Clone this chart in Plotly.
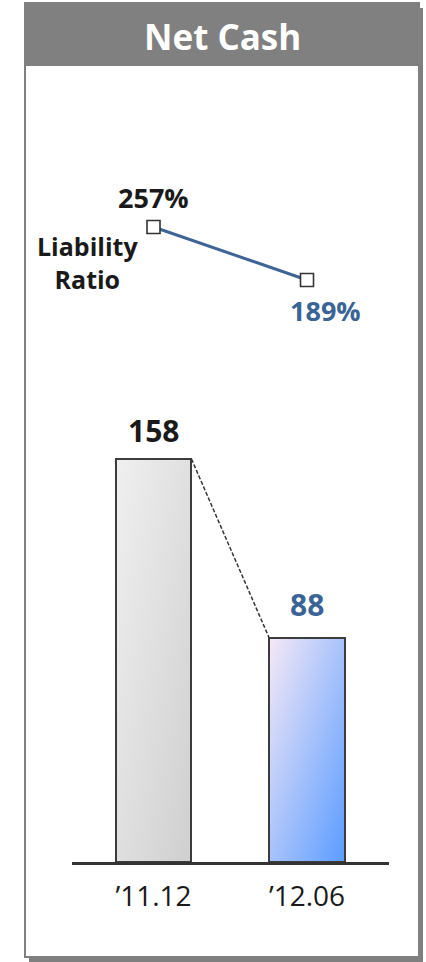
import base64
import plotly.graph_objects as go

# ---- data ----
periods = ["\u201911.12", "\u201912.06"]
net_cash = [158, 88]
liability_ratio = [257, 189]
net_cash_labels = ["158", "88"]
ratio_labels = ["257%", "189%"]

W, H = 426, 962
FONT = "Open Sans"
BLUE = "#3A6496"
DARK = "#1A1A1A"
BAR_W = 0.495


def px(x):
    return x / W


def py(y):
    return 1 - y / H


def gradient_uri(c0, c1):
    svg = (
        "<svg xmlns='http://www.w3.org/2000/svg' width='100' height='100' "
        "preserveAspectRatio='none'>"
        "<defs><linearGradient id='g' x1='0' y1='0' x2='1' y2='1'>"
        f"<stop offset='0' stop-color='{c0}'/><stop offset='1' stop-color='{c1}'/>"
        "</linearGradient></defs>"
        "<rect width='100' height='100' fill='url(#g)'/></svg>"
    )
    return "data:image/svg+xml;base64," + base64.b64encode(svg.encode()).decode()


bar_gradients = [("#F0F0F0", "#CFCFCF"), ("#F6E9F6", "#5A9CFF")]

fig = go.Figure()

# bars: outline from the trace, fill from gradient images beneath
fig.add_trace(go.Bar(
    x=[0, 1], y=net_cash, width=BAR_W,
    marker=dict(color="rgba(0,0,0,0)", line=dict(color="#3C3C3C", width=2)),
    hoverinfo="skip", showlegend=False,
))

# liability ratio line
fig.add_trace(go.Scatter(
    x=[0, 1], y=liability_ratio, yaxis="y2", mode="lines+markers",
    line=dict(color="#3F6597", width=3),
    marker=dict(symbol="square", size=13, color="white",
                line=dict(color="#333333", width=1.6)),
    hoverinfo="skip", showlegend=False,
))

images = []
for i, (v, (c0, c1)) in enumerate(zip(net_cash, bar_gradients)):
    images.append(dict(
        source=gradient_uri(c0, c1), xref="x", yref="y",
        x=i - BAR_W / 2, y=v, sizex=BAR_W, sizey=v,
        xanchor="left", yanchor="top", sizing="stretch", layer="below",
    ))

shapes = [
    # drop shadow, panel, header band
    dict(type="rect", xref="paper", yref="paper", x0=px(29), x1=px(423),
         y0=py(962), y1=py(8), fillcolor="#7F7F7F", line_width=0, layer="below"),
    dict(type="rect", xref="paper", yref="paper", x0=px(25), x1=px(419),
         y0=py(957), y1=py(3), fillcolor="white",
         line=dict(color="#808080", width=2), layer="below"),
    dict(type="rect", xref="paper", yref="paper", x0=px(24), x1=px(420),
         y0=py(66), y1=py(3), fillcolor="#808080", line_width=0, layer="below"),
    # dashed connector between bar tops
    dict(type="line", xref="x", yref="y", x0=BAR_W / 2, y0=net_cash[0],
         x1=1 - BAR_W / 2, y1=net_cash[1],
         line=dict(color="#333333", width=1.5, dash="4px,2px")),
]


def label(text, x, y, size, color, xref="x", yref="y", **kw):
    return dict(text=text, x=x, y=y, xref=xref, yref=yref, showarrow=False,
                xanchor="center", yanchor="middle",
                font=dict(family=FONT, size=size, color=color), **kw)


annotations = [
    label("<b>Net Cash</b>", px(222), py(36), 35, "white", "paper", "paper"),
    label("<b>Liability<br>Ratio</b>", px(87), py(262), 25, DARK, "paper", "paper",
          align="center"),
    label(f"<b>{ratio_labels[0]}</b>", 0, liability_ratio[0], 27, DARK, yref="y2",
          xshift=0, yshift=30),
    label(f"<b>{ratio_labels[1]}</b>", 1, liability_ratio[1], 27, BLUE, yref="y2",
          xshift=18, yshift=-30),
    label(f"<b>{net_cash_labels[0]}</b>", 0, net_cash[0], 30, DARK, yshift=29),
    label(f"<b>{net_cash_labels[1]}</b>", 1, net_cash[1], 30, BLUE, yshift=33),
]

# axis geometry: bar centres at 153.5px and 307px, baseline at 862px
x_lo = (72 - 153.5) / 153.5
x_hi = (389 - 153.5) / 153.5
fig.update_layout(
    width=W, height=H, margin=dict(l=0, r=0, t=0, b=0),
    paper_bgcolor="white", plot_bgcolor="rgba(0,0,0,0)",
    xaxis=dict(domain=[px(72), px(389)], range=[x_lo, x_hi],
               tickmode="array", tickvals=[0, 1], ticktext=periods,
               tickfont=dict(family=FONT, size=28, color=DARK),
               showline=True, linecolor="#333333", linewidth=3,
               showgrid=False, zeroline=False, ticks="", ticklabelstandoff=7,
               fixedrange=True, anchor="y"),
    yaxis=dict(domain=[py(862), py(400)], range=[0, (862 - 400) / ((862 - 459) / 158)],
               visible=False, showgrid=False, zeroline=False, fixedrange=True),
    yaxis2=dict(domain=[py(330), py(150)],
                range=[189 - (330 - 280) / (53 / 68), 257 + (227 - 150) / (53 / 68)],
                visible=False, showgrid=False, zeroline=False, anchor="x", fixedrange=True),
    shapes=shapes, images=images, annotations=annotations,
    bargap=0,
)

fig.write_html("out.html")
